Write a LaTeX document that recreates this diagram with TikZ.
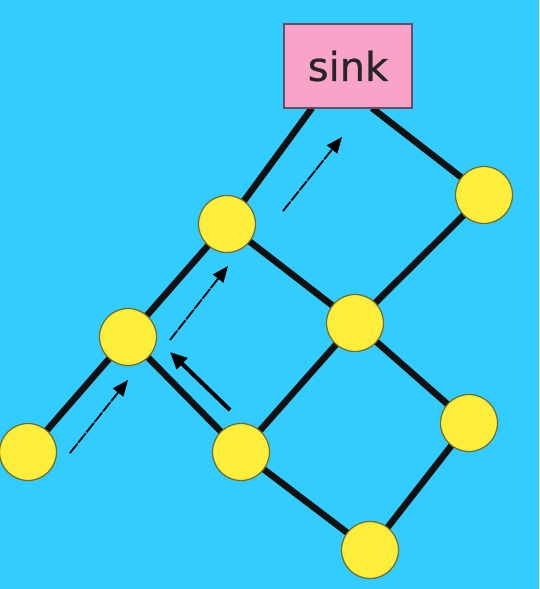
\documentclass[tikz,border=0pt]{standalone}
\usepackage{fontspec}
\newfontfamily\sinkfont[FakeBold=0.6]{DejaVu Sans}
\usetikzlibrary{arrows.meta}
\pgfdeclarelayer{edges}
\pgfsetlayers{edges,main}
\definecolor{bg}{HTML}{33CCFF}
\definecolor{nodefill}{HTML}{FCEE3A}
\definecolor{nodeline}{HTML}{6E6A30}
\definecolor{sinkfill}{HTML}{F9A3C8}
\definecolor{sinkline}{HTML}{6A4A66}
\definecolor{edgecol}{HTML}{111111}
\begin{document}
\begin{tikzpicture}[x=1pt,y=-1pt,
  vert/.style={circle,minimum size=57pt,inner sep=0pt,fill=nodefill,draw=nodeline,line width=1.2pt},
  sinkbox/.style={rectangle,minimum width=128pt,minimum height=84pt,inner sep=0pt,fill=sinkfill,draw=sinkline,line width=1.2pt,text=black!85,font=\sinkfont\fontsize{40}{40}\selectfont},
  edge/.style={draw=edgecol,line width=6.5pt,shorten <=-3pt,shorten >=-3pt},
  flow/.style={draw=black,line width=1.8pt,dash pattern=on 12pt off 1.2pt,-{Triangle[length=16pt,width=13pt]}},
  back/.style={draw=black,line width=4pt,-{Triangle[length=17pt,width=15pt]}}]
\begin{pgfonlayer}{edges}
\fill[bg] (0,0) rectangle (539,589);
\end{pgfonlayer}
\useasboundingbox (0,0) rectangle (539,589);
% nodes
\node[sinkbox] (sink) at (348,66) {sink};
\node[vert] (a) at (28,452) {};
\node[vert] (b) at (128,337) {};
\node[vert] (c) at (227,224) {};
\node[vert] (d) at (484,195) {};
\node[vert] (e) at (355,323) {};
\node[vert] (f) at (241,452) {};
\node[vert] (g) at (469,423) {};
\node[vert] (h) at (370,550) {};
\coordinate (sl) at (312,108);
\coordinate (sr) at (372,108);
% edges (behind nodes)
\begin{pgfonlayer}{edges}
\path[edge] (a) -- (b);
\path[edge] (b) -- (c);
\path[edge,shorten >=0pt] (c) -- (sl);
\path[edge,shorten <=0pt] (sr) -- (d);
\path[edge] (d) -- (e);
\path[edge] (c) -- (e);
\path[edge] (e) -- (f);
\path[edge] (b) -- (f);
\path[edge] (e) -- (g);
\path[edge] (g) -- (h);
\path[edge] (f) -- (h);
\end{pgfonlayer}
% flow arrows
\coordinate (t1) at (70,453); \coordinate (h1) at (128,380);
\coordinate (t2) at (170,340); \coordinate (h2) at (228,266);
\coordinate (t3) at (283,211); \coordinate (h3) at (342,137);
\coordinate (t4) at (230,410); \coordinate (h4) at (170,352);
\path[flow] (t1) -- (h1);
\path[flow] (t2) -- (h2);
\path[flow] (t3) -- (h3);
\path[back] (t4) -- (h4);
\end{tikzpicture}
\end{document}
